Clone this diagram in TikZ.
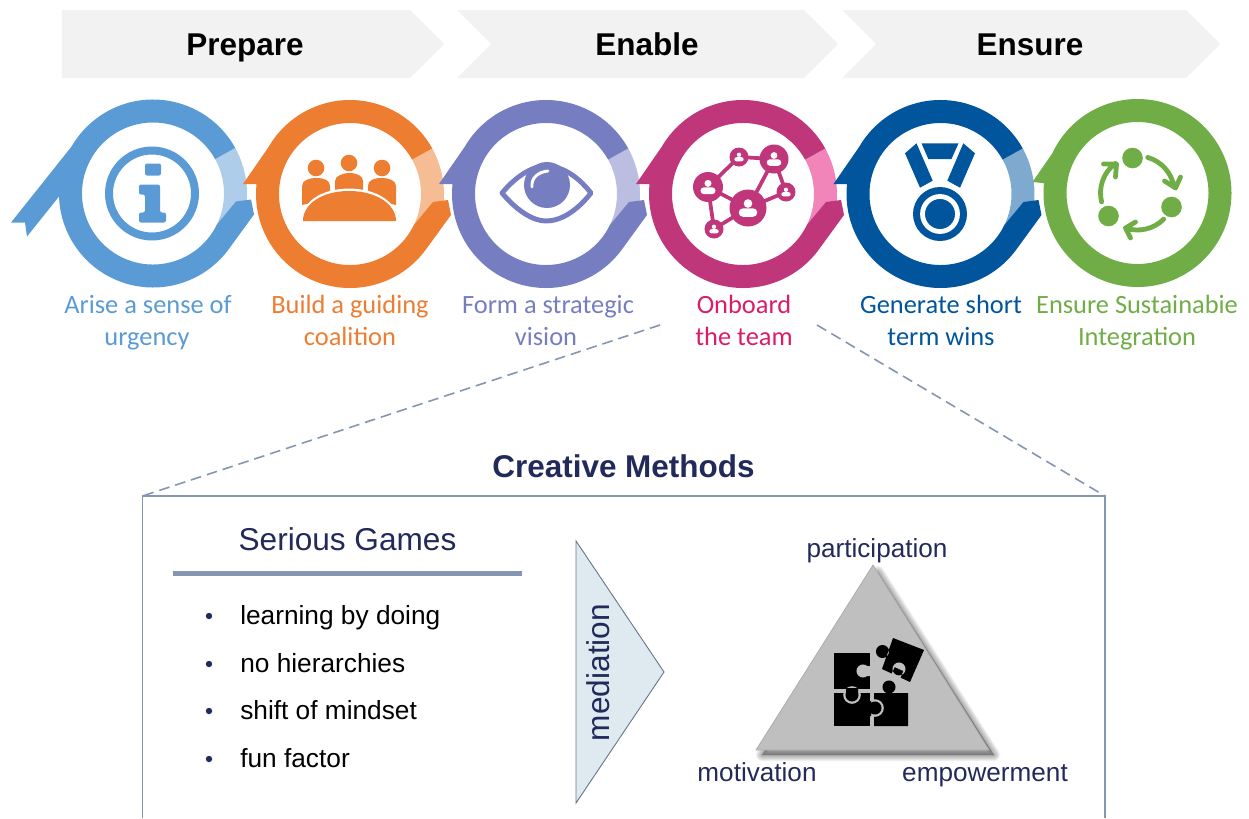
\documentclass[tikz,border=0pt]{standalone}
\usepackage{fontspec}
\setmainfont{Liberation Sans}
\newfontfamily\lblfont{Carlito}
\definecolor{cblue}{HTML}{5B9BD5}\definecolor{lblue}{HTML}{AECDEA}
\definecolor{corange}{HTML}{ED7D31}\definecolor{lorange}{HTML}{F6BC94}
\definecolor{cpurple}{HTML}{767DC1}\definecolor{lpurple}{HTML}{BBBEE0}
\definecolor{cpink}{HTML}{C0367A}\definecolor{lpink}{HTML}{F184B8}
\definecolor{cnavy}{HTML}{00559D}\definecolor{lnavy}{HTML}{7FAACF}
\definecolor{cgreen}{HTML}{70AD47}
\definecolor{tpink}{HTML}{DB1B6C}
\definecolor{tnavy}{HTML}{222A5A}
\definecolor{slate}{HTML}{8496B0}
\definecolor{chev}{HTML}{F2F2F2}
\definecolor{tri}{HTML}{BFBFBF}
\definecolor{medfill}{HTML}{DEEAF0}
\tikzset{
 local/.style={x=0.75pt,y=0.75pt},
 head/.style={anchor=base,inner sep=0,font=\fontsize{23.6}{28}\bfseries\selectfont},
 lbl/.style={anchor=base,inner sep=0,font=\lblfont\fontsize{19.8}{23}\selectfont},
 bigtxt/.style={anchor=base,inner sep=0,text=tnavy,font=\fontsize{23.7}{28}\selectfont},
 midtxt/.style={anchor=base,inner sep=0,text=tnavy,font=\fontsize{19.6}{24}\selectfont},
 itemtxt/.style={anchor=base west,inner sep=0,text=black,font=\fontsize{19.7}{24}\selectfont},
 dashlink/.style={draw=slate,line width=1.2pt,dash pattern=on 8pt off 4.5pt},
}
\newcommand{\lightseg}[1]{\fill[#1] (29:94) arc[start angle=29,end angle=-26,radius=94] -- (-26:71) arc[start angle=-26,end angle=29,radius=71] -- cycle;}
\newcommand{\tailpart}{arc[start angle=174,end angle=323,radius=94] -- (101,-21) -- (98,-6) -- (83,-8) -- (334:71) arc[start angle=334,end angle=29,radius=71] -- cycle}
\newcommand{\ringstd}[2]{\lightseg{#2}\fill[#1] (29:94) arc[start angle=29,end angle=150,radius=94] -- (-107,10) -- (174:94) \tailpart;}
\newcommand{\netperson}[3]{%
 \fill[white] (#1,#2+0.28*#3) circle[radius=0.27*#3];
 \fill[white,rounded corners=0.2*#3] (#1-0.58*#3,#2-0.55*#3) -- (#1-0.58*#3,#2-0.02*#3) -- (#1+0.58*#3,#2-0.02*#3) -- (#1+0.58*#3,#2-0.55*#3) -- cycle;}
\begin{document}
\begin{tikzpicture}[x=0.75pt,y=-0.75pt]
\useasboundingbox (0,0) rectangle (1249,818);
% banners
\fill[chev] (62,10) -- (410,10) -- (444,44) -- (410,78) -- (62,78) -- cycle;
\fill[chev] (457,10) -- (804,10) -- (838,44) -- (804,78) -- (457,78) -- (491,44) -- cycle;
\fill[chev] (842,10) -- (1186,10) -- (1220,44) -- (1186,78) -- (842,78) -- (876,44) -- cycle;
\node[head] (prep) at (245,55.5) {Prepare};
\node[head] (enab) at (647,55.5) {Enable};
\node[head] (ensu) at (1030,55.5) {Ensure};
% blue ring
\begin{scope}[shift={(153,193.5)},local]
\lightseg{lblue}
\fill[cblue] (29:94) arc[start angle=29,end angle=150,radius=94] -- (-142,-29) -- (-128,-29) -- (-126,-43) -- (-94,-3) -- (174:94) \tailpart;
\draw[cblue,line width=6pt] (-1,0) circle[radius=43];
\fill[cblue,rounded corners=1.5pt] (-8,30) rectangle (8,18);
\fill[cblue,rounded corners=1.5pt] (-14,9) -- (7,9) -- (7,-19) -- (13,-19) -- (13,-29) -- (-14,-29) -- (-14,-19) -- (-8,-19) -- (-8,-1) -- (-14,-1) -- cycle;
\end{scope}
% orange ring
\begin{scope}[shift={(350,194)},local]
\ringstd{corange}{lorange}
\fill[corange] (-34,26) circle[radius=8.3] (-1,31) circle[radius=8.3] (32,26) circle[radius=8.3];
\fill[corange] (-48,-11) -- (-48,8) .. controls (-48,14) and (-40,16) .. (-34,16) .. controls (-26,16) and (-20,14) .. (-20,8) -- (-20,-5) -- cycle;
\fill[corange] (-15,0) -- (-15,13) .. controls (-15,18) and (-7,21) .. (-1,21) .. controls (7,21) and (13,18) .. (13,13) -- (13,0) -- cycle;
\fill[corange] (46,-11) -- (46,8) .. controls (46,14) and (38,16) .. (32,16) .. controls (24,16) and (18,14) .. (18,8) -- (18,-5) -- cycle;
\filldraw[fill=corange,draw=white,line width=3.6pt] (-47,-29) .. controls (-47,-10) and (-28,3) .. (-1,3) .. controls (26,3) and (46,-10) .. (46,-29) -- cycle;
\fill[corange] (-47,-27) .. controls (-47,-10) and (-28,3) .. (-1,3) .. controls (26,3) and (46,-10) .. (46,-27) -- cycle;
\end{scope}
% purple ring
\begin{scope}[shift={(546,194)},local]
\ringstd{cpurple}{lpurple}
\draw[cpurple,line width=3.7pt,line join=round] (-44,1) .. controls (-28,20) and (-12,28) .. (0,28) .. controls (14,28) and (30,20) .. (45,1) .. controls (30,-18) and (14,-27) .. (0,-27) .. controls (-12,-27) and (-28,-18) .. (-44,1) -- cycle;
\fill[cpurple] (1,9) circle[radius=23];
\draw[white,line width=2.2pt,line cap=round] (-14,7) .. controls (-15,16) and (-8,22) .. (2,23);
\end{scope}
% pink ring
\begin{scope}[shift={(743,194)},local]
\ringstd{cpink}{lpink}
\draw[cpink,line width=2.8pt] (-35,7) -- (-4,37) -- (31,35) -- (5,-14) -- (43,2) -- (31,35) (5,-14) -- (-29,-35) -- (-35,7) -- (5,-14);
\fill[cpink] (-35,7) circle[radius=15] (-4,37) circle[radius=9.5] (31,35) circle[radius=14.5] (43,2) circle[radius=9.5] (5,-14) circle[radius=18.5] (-29,-35) circle[radius=9.5];
\netperson{-35}{7}{13}
\netperson{-4}{37}{8}
\netperson{31}{35}{12.5}
\netperson{43}{2}{8}
\netperson{5}{-14}{16}
\netperson{-29}{-35}{8}
\end{scope}
% navy ring
\begin{scope}[shift={(940.5,194)},local]
\ringstd{cnavy}{lnavy}
\fill[cnavy] (-19,50.7) -- (18,50.7) -- (11,35) -- (-12.2,35) -- cycle;
\fill[cnavy] (-24,50.7) -- (-35.5,40.7) -- (-20.5,6.3) -- (-7.8,13.3) -- cycle;
\fill[cnavy] (22.8,50.7) -- (34.5,40.7) -- (19.5,6.3) -- (6.8,13.3) -- cycle;
\fill[white] (-0.5,-20) circle[radius=29.5];
\fill[cnavy] (-0.5,-20) circle[radius=27];
\draw[white,line width=3.6pt] (-0.5,-20) circle[radius=17.5];
\end{scope}
% green ring
\begin{scope}[shift={(1137.5,193)},local]
\fill[cgreen,even odd rule] (155:94) -- (-105,11) -- (174:94) arc[start angle=174,end angle=515,radius=94] -- cycle (0,0) circle[radius=71];
\fill[cgreen] (-5,35) circle[radius=10.3] (34,-14) circle[radius=10.3] (-29,-23) circle[radius=10.3];
\draw[cgreen,line width=3.6pt,line cap=round,line join=round]
 (74:37) arc[start angle=74,end angle=9,radius=37]
 (43,16) -- (38,5) -- (27,12);
\draw[cgreen,line width=3.6pt,line cap=round,line join=round]
 (-45:37) arc[start angle=-45,end angle=-109,radius=37]
 (-2,-29) -- (-12,-35) -- (-7,-45);
\draw[cgreen,line width=3.6pt,line cap=round,line join=round]
 (194:37) arc[start angle=194,end angle=127,radius=37]
 (-34,29) -- (-21,29) -- (-22,16);
\end{scope}
% labels
\node[lbl,text=cblue] (a1) at (148,313) {Arise a sense of};
\node[lbl,text=cblue] (a2) at (147,345.5) {urgency};
\node[lbl,text=corange] (b1) at (350,313) {Build a guiding};
\node[lbl,text=corange] (b2) at (350,345.5) {coalition};
\node[lbl,text=cpurple] (c1) at (548,313) {Form a strategic};
\node[lbl,text=cpurple] (c2) at (546,345.5) {vision};
\node[lbl,text=tpink] (d1) at (744,313) {Onboard};
\node[lbl,text=tpink] (d2) at (744,345.5) {the team};
\node[lbl,text=cnavy] (e1) at (941,313) {Generate short};
\node[lbl,text=cnavy] (e2) at (941,345.5) {term wins};
\node[lbl,text=cgreen] (f1) at (1137,313) {Ensure Sustainabie};
\node[lbl,text=cgreen] (f2) at (1137,345.5) {Integration};
% lower panel
\coordinate (zoomL) at (660,325);
\coordinate (zoomR) at (817,325);
\coordinate (boxTL) at (142.5,496);
\coordinate (boxTR) at (1105,496);
\coordinate (boxBL) at (142.5,818);
\coordinate (boxBR) at (1105,818);
\draw[dashlink] (zoomL) -- (boxTL);
\draw[dashlink] (zoomR) -- (boxTR);
\draw[slate,line width=1.3pt] (boxBL) -- (boxTL) -- (boxTR) -- (boxBR);
\node[head,text=tnavy] (title) at (623.5,477.5) {Creative Methods};
\node[bigtxt] (sg) at (347.5,550) {Serious Games};
\fill[slate] (173,570.5) rectangle (522,576);
\foreach \yy/\nm/\tx in {616/i1/learning by doing,664/i2/no hierarchies,711/i3/shift of mindset,759/i4/fun factor}{
 \fill[tnavy] (209,\yy) circle[radius=2.4pt];
 \node[itemtxt] (\nm) at (240,\yy+8) {\tx};
}
% mediation wedge
\filldraw[fill=medfill,draw=slate!80!black,line width=.7pt] (576,541) -- (664,672) -- (576,803) -- cycle;
\node[bigtxt,rotate=90] (med) at (609,672.5) {mediation};
% triangle with soft shadow, falling to the right and below
\foreach \w in {9,7.5,6,4.5,3,1.5}{
 \filldraw[black,opacity=.06,line width=\w pt,line join=round] (878,572) -- (994,755) -- (762,755) -- cycle;
}
\filldraw[fill=tri,draw=black!32,line width=.6pt] (873,565) -- (989,750) -- (756,750) -- cycle;
% puzzle
\fill[black] (834,693) rectangle (870,726);
\fill[black] (874,693) rectangle (908,726) (889,687) circle[radius=4.9pt];
\fill[tri] (875,708) circle[radius=6.6pt];
\fill[tri] (870,700) rectangle (874,726);
\fill[black] (866,701) rectangle (871,716) (875,708) circle[radius=4.9pt];
\fill[black] (834,653) rectangle (870,689);
\fill[tri] (863,671) circle[radius=4.9pt] (864,666) rectangle (871,676);
\fill[tri] (852,695) circle[radius=6.6pt];
\fill[black] (852,695) circle[radius=4.9pt] (846,688) rectangle (858,692);
\fill[black] (893,638) -- (924,650) -- (910,682) -- (882,669) -- cycle (882.5,651.5) circle[radius=4.9pt];
\fill[tri] (899,669) circle[radius=4.9pt] (894.6,667) -- (903.4,671) -- (899,681) -- (890.2,677) -- cycle;
\node[midtxt] (pa) at (877,557) {participation};
\node[midtxt] (mo) at (757,781) {motivation};
\node[midtxt] (em) at (985,781) {empowerment};
\end{tikzpicture}
\end{document}
